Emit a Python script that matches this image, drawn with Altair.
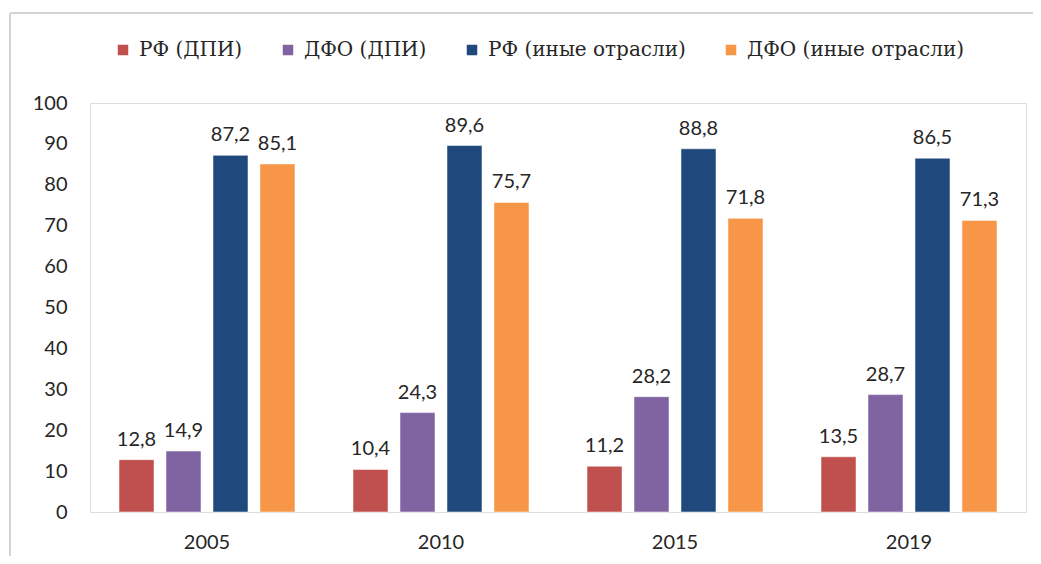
import altair as alt
import pandas as pd

years = ["2005", "2010", "2015", "2019"]
series = ["РФ (ДПИ)", "ДФО (ДПИ)", "РФ (иные отрасли)", "ДФО (иные отрасли)"]
rf_dpi = [12.8, 10.4, 11.2, 13.5]
dfo_dpi = [14.9, 24.3, 28.2, 28.7]
rf_other = [87.2, 89.6, 88.8, 86.5]
dfo_other = [85.1, 75.7, 71.8, 71.3]
colors = ["#C0504D", "#8064A2", "#1F497D", "#F79646"]
y_ticks = [0, 10, 20, 30, 40, 50, 60, 70, 80, 90, 100]

rows = []
for s, vals in zip(series, [rf_dpi, dfo_dpi, rf_other, dfo_other]):
    for y, v in zip(years, vals):
        rows.append({"year": y, "series": s, "value": v, "label": f"{v:.1f}".replace(".", ",")})
df = pd.DataFrame(rows)

NUM_FONT = "Lato"
SERIF = "DejaVu Serif"
TXT = "#262626"

base = alt.Chart(df).encode(
    x=alt.X("year:N", sort=years, title=None,
            scale=alt.Scale(paddingInner=0.248, paddingOuter=0.124),
            axis=alt.Axis(labelAngle=0, domain=False, ticks=False, labelPadding=20,
                          labelFont=NUM_FONT, labelFontSize=20, labelColor=TXT)),
    xOffset=alt.XOffset("series:N", sort=series, scale=alt.Scale(paddingInner=0.255, paddingOuter=0)),
)

bars = base.mark_bar(stroke="white", strokeWidth=0.5).encode(
    y=alt.Y("value:Q", title=None,
            scale=alt.Scale(domain=[0, 100]),
            axis=alt.Axis(values=y_ticks, grid=False, domain=False, ticks=False, labelPadding=23,
                          labelFont=NUM_FONT, labelFontSize=20, labelColor=TXT)),
    color=alt.Color("series:N", sort=series,
                    scale=alt.Scale(domain=series, range=colors),
                    legend=alt.Legend(title=None, orient="none", legendX=23, legendY=-63,
                                      direction="horizontal", columns=4, columnPadding=35,
                                      symbolType="square", symbolSize=110, symbolStrokeWidth=0,
                                      labelFont=SERIF, labelFontSize=20, labelColor=TXT,
                                      labelOffset=6, labelLimit=400)),
)

labels = base.mark_text(baseline="alphabetic", dy=-14, font=NUM_FONT, fontSize=20, color=TXT).encode(
    y="value:Q",
    text="label:N",
)

frame_df = pd.DataFrame({"k": [0]})
left_border = alt.Chart(frame_df).mark_rule(color="#d4d4d4", strokeWidth=2).encode(
    x=alt.value(-80), y=alt.value(-90), y2=alt.value(470))
top_border = alt.Chart(frame_df).mark_rule(color="#d4d4d4", strokeWidth=2).encode(
    x=alt.value(-80), x2=alt.value(960), y=alt.value(-90))

chart = alt.layer(bars, labels, left_border, top_border).properties(
    width=936, height=409,
    autosize=alt.AutoSizeParams(type="none"),
    padding={"left": 82, "top": 95, "right": 7, "bottom": 44},
).configure_view(stroke=None).configure(background="white")

chart.save("out.html", embed_options={"renderer": "svg", "actions": False})
